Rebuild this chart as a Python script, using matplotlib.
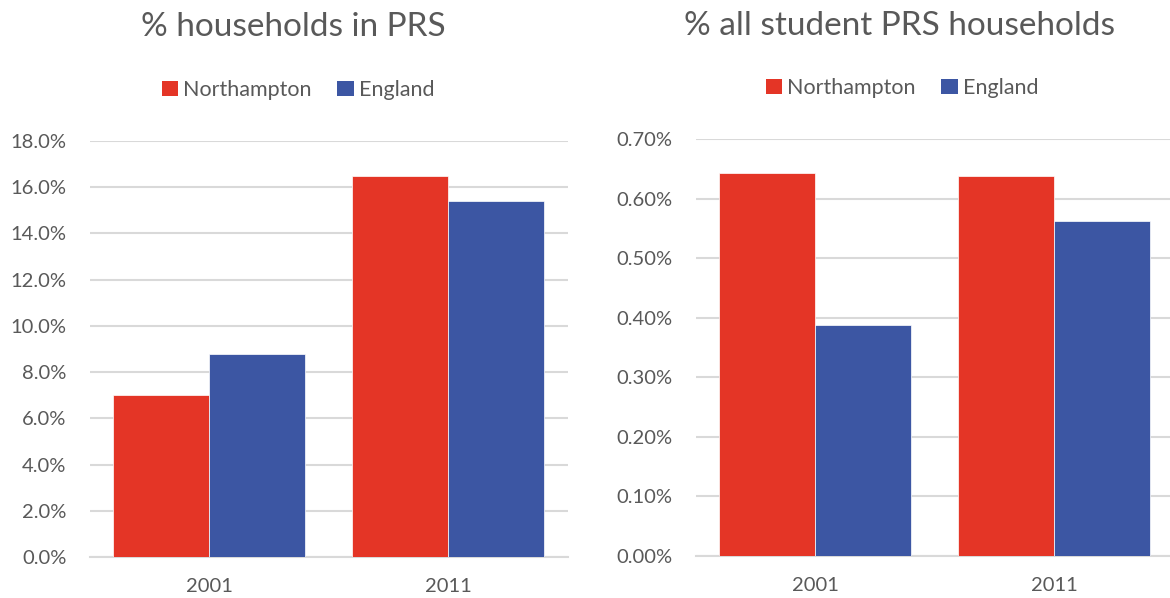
import matplotlib
matplotlib.use("Agg")
import matplotlib.pyplot as plt
import numpy as np
from matplotlib.ticker import FuncFormatter
from matplotlib.patches import Patch

years = ["2001", "2011"]
series_names = ["Northampton", "England"]
prs_northampton = [7.0, 16.5]
prs_england = [8.8, 15.4]
student_northampton = [0.643, 0.638]
student_england = [0.388, 0.562]

RED = "#E43526"
BLUE = "#3C56A3"
GRID = "#D9D9D9"
TXT = "#595959"

plt.rcParams['font.family'] = ['Lato', 'DejaVu Sans']

W, H = 1170, 598
fig = plt.figure(figsize=(W / 100, H / 100), dpi=100)

def draw(ax, n_vals, e_vals, ymax, step, fmt, title, title_cx, title_base, leg_cx, leg_y):
    x = np.arange(len(years))
    w = 0.4
    ax.bar(x - w/2, n_vals, w, color=RED, edgecolor="white", linewidth=0.5, zorder=3)
    ax.bar(x + w/2, e_vals, w, color=BLUE, edgecolor="white", linewidth=0.5, zorder=3)
    ax.set_xlim(-0.5, len(years) - 0.5)
    ax.set_ylim(0, ymax)
    ax.set_yticks(np.arange(0, ymax + step/2, step))
    ax.yaxis.set_major_formatter(FuncFormatter(fmt))
    ax.set_xticks(x)
    ax.set_xticklabels(years)
    ax.grid(axis="y", color=GRID, linewidth=1.5, zorder=0)
    for s in ["top", "right", "left"]:
        ax.spines[s].set_visible(False)
    ax.spines["bottom"].set_color(GRID)
    ax.spines["bottom"].set_linewidth(1.5)
    ax.tick_params(axis="both", length=0, labelsize=14.5, colors=TXT)
    ax.tick_params(axis="y", pad=16.5)
    ax.tick_params(axis="x", pad=15)
    fig.text(title_cx / W, 1 - title_base / H, title, ha="center", va="baseline",
             fontsize=24, color=TXT)
    handles = [Patch(facecolor=RED), Patch(facecolor=BLUE)]
    fig.legend(handles, series_names, loc="center", bbox_to_anchor=(leg_cx / W, 1 - leg_y / H),
               ncol=2, frameon=False, fontsize=15.5, labelcolor=TXT,
               handlelength=0.75, handleheight=0.75, handletextpad=0.25, columnspacing=1.2,
               borderaxespad=0, borderpad=0)

ax1 = fig.add_axes([89.5 / W, 1 - 557 / H, 478 / W, 416 / H])
draw(ax1, prs_northampton, prs_england, 18.0, 2.0,
     lambda v, p: f"{v:.1f}%", "% households in PRS", 293, 36, 298, 90)

ax2 = fig.add_axes([695.5 / W, 1 - 556 / H, 478 / W, 417 / H])
draw(ax2, student_northampton, student_england, 0.70, 0.10,
     lambda v, p: f"{v:.2f}%", "% all student PRS households", 899, 35, 902, 88)

fig.savefig("out.png", dpi=100)
